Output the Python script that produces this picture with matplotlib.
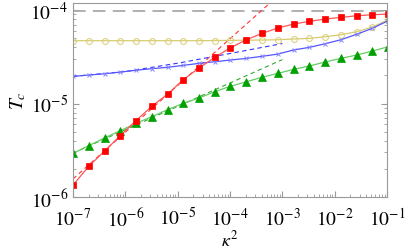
import matplotlib
matplotlib.use("Agg")
import matplotlib.pyplot as plt
from matplotlib.ticker import LogLocator, NullFormatter

plt.rcParams['font.family'] = ['Liberation Serif', 'DejaVu Serif']
plt.rcParams['mathtext.fontset'] = 'stix'

# kappa^2 grid (factor 2 steps)
kappa2 = [1e-7, 2e-7, 4e-7, 8e-7, 1.6e-6, 3.2e-6, 6.4e-6, 1.28e-5, 2.56e-5,
          5.12e-5, 1.02e-4, 2.05e-4, 4.1e-4, 8.19e-4, 1.64e-3, 3.28e-3,
          6.55e-3, 1.31e-2, 2.62e-2, 5.24e-2, 1.05e-1]

tc_red = [1.34e-6, 2.13e-6, 3.10e-6, 4.53e-6, 6.56e-6, 9.34e-6, 1.26e-5,
          1.80e-5, 2.40e-5, 3.12e-5, 3.95e-5, 4.81e-5, 5.63e-5, 6.42e-5,
          7.08e-5, 7.57e-5, 8.01e-5, 8.35e-5, 8.69e-5, 8.91e-5, 9.06e-5]

tc_green = [2.93e-6, 3.54e-6, 4.28e-6, 5.12e-6, 6.14e-6, 7.23e-6, 8.59e-6,
            1.005e-5, 1.146e-5, 1.34e-5, 1.53e-5, 1.71e-5, 1.91e-5, 2.10e-5,
            2.32e-5, 2.52e-5, 2.78e-5, 3.04e-5, 3.30e-5, 3.64e-5, 4.05e-5]

tc_blue = [1.95e-5, 2.02e-5, 2.08e-5, 2.17e-5, 2.27e-5, 2.36e-5, 2.44e-5,
           2.56e-5, 2.69e-5, 2.80e-5, 2.92e-5, 3.04e-5, 3.20e-5, 3.38e-5,
           3.74e-5, 3.99e-5, 4.36e-5, 4.81e-5, 5.50e-5, 6.37e-5, 7.69e-5]

tc_yellow = [4.70e-5, 4.70e-5, 4.70e-5, 4.70e-5, 4.70e-5, 4.70e-5, 4.70e-5,
             4.70e-5, 4.70e-5, 4.72e-5, 4.74e-5, 4.76e-5, 4.78e-5, 4.81e-5,
             4.90e-5, 4.98e-5, 5.18e-5, 5.44e-5, 5.86e-5, 6.58e-5, 7.87e-5]

# small-kappa asymptotes
fit_x = [1e-7, 1e-3]
fit_red = [1.56e-6, 1.56e-4]
fit_green = [2.95e-6, 2.95e-5]
fit_blue_x = [1e-7, 1e-6, 1e-5, 1e-4, 1e-3]
fit_blue = [1.95e-5, 2.20e-5, 2.70e-5, 3.43e-5, 4.38e-5]

tc_limit = 9.8e-5

xticks = [1e-7, 1e-6, 1e-5, 1e-4, 1e-3, 1e-2, 1e-1]
xticklabels = [r'$10^{-7}$', r'$10^{-6}$', r'$10^{-5}$', r'$10^{-4}$',
               r'$10^{-3}$', r'$10^{-2}$', r'$10^{-1}$']
yticks = [1e-6, 1e-5, 1e-4]
yticklabels = [r'$10^{-6}$', r'$10^{-5}$', r'$10^{-4}$']

fig = plt.figure(figsize=(4.09, 2.53), dpi=100)
ax = fig.add_axes([73/409, 1 - 198/253, (387 - 73)/409, (198 - 4)/253])

ax.axhline(tc_limit, color='#aaaaaa', lw=1.3, dashes=(7, 4))

ax.plot(fit_x, fit_red, color='#ff3333', lw=0.8, dashes=(4, 3))
ax.plot(fit_x, fit_green, color='#33aa33', lw=0.8, dashes=(4, 3))
ax.plot(fit_blue_x, fit_blue, color='#3333ff', lw=0.8, dashes=(4, 3))

ax.plot(kappa2, tc_yellow, color='#d8cc70', lw=0.9, marker='o', ms=4.2,
        mfc='none', mec='#d8cc70', mew=0.7)
ax.plot(kappa2, tc_blue, color='#5555ff', lw=0.9, marker='x', ms=3,
        mec='#8888ff', mew=0.7)
ax.plot(kappa2, tc_green, color='#66cc66', lw=0.9, marker='^', ms=5.3,
        mfc='#00a000', mec='#00a000', mew=0.5)
ax.plot(kappa2, tc_red, color='#ff5555', lw=0.9, marker='s', ms=4.0,
        mfc='#ff0000', mec='#ff0000', mew=0.5)

ax.set_xscale('log')
ax.set_yscale('log')
ax.set_xlim(1e-7, 1e-1)
ax.set_ylim(1e-6, 1.19e-4)
ax.set_xticks(xticks, xticklabels)
ax.set_yticks(yticks, yticklabels)
ax.xaxis.set_minor_locator(LogLocator(base=10, subs=range(2, 10), numticks=20))
ax.yaxis.set_minor_locator(LogLocator(base=10, subs=range(2, 10), numticks=20))
ax.xaxis.set_minor_formatter(NullFormatter())
ax.yaxis.set_minor_formatter(NullFormatter())

for s in ax.spines.values():
    s.set_color('#999999')
ax.tick_params(which='both', direction='in', color='#999999', right=True, top=False,
               labelsize=14)
ax.tick_params(which='major', length=4)
ax.tick_params(which='minor', length=2)
ax.tick_params(axis='x', pad=7)

ax.set_xlabel(r'$\kappa^2$', fontsize=13, labelpad=0)
ax.set_ylabel(r'$T_c$', fontsize=14, labelpad=2)

fig.savefig('out.png', dpi=100)
